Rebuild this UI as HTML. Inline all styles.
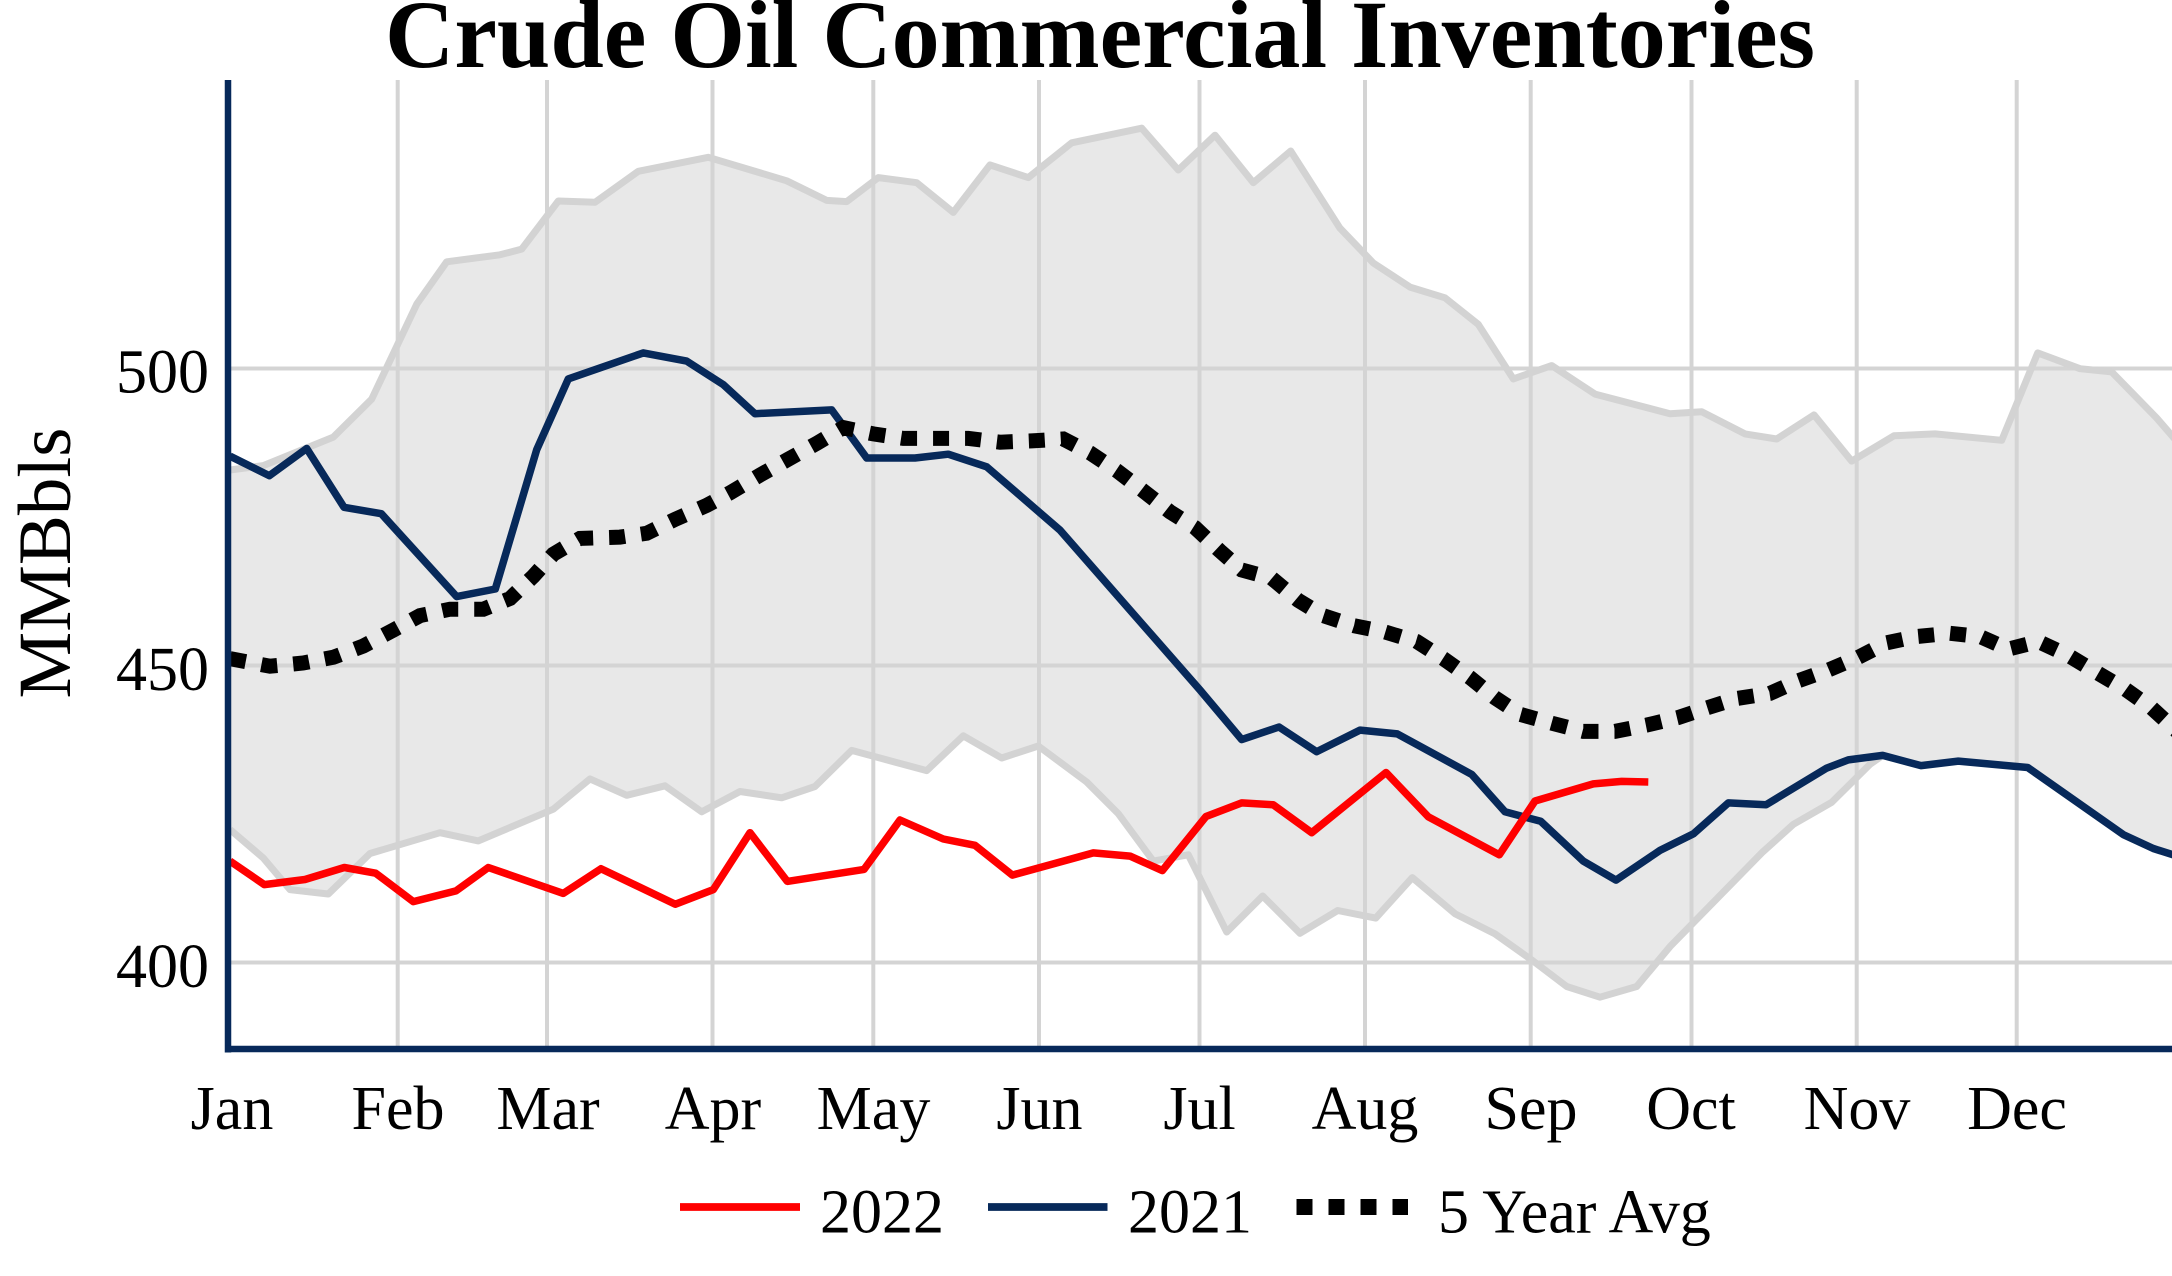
<!DOCTYPE html>
<html>
<head>
<meta charset="utf-8">
<style>
html,body{margin:0;padding:0;background:#fff;}
svg{display:block;}
text{font-family:"Liberation Serif","Times New Roman",serif;fill:#000;}
</style>
</head>
<body>
<svg width="2172" height="1276" viewBox="0 0 2172 1276" xmlns="http://www.w3.org/2000/svg">
<defs>
<clipPath id="plot"><rect x="228" y="80" width="1944" height="969"/></clipPath>
</defs>
<rect x="0" y="0" width="2172" height="1276" fill="#fff"/>

<g clip-path="url(#plot)">
<!-- band fill -->
<polygon fill="#e8e8e8" stroke="none" points="230,470 263.3,465.6 333.3,437.1 371.7,399.1 416.7,304.2 446.7,261.8 500,254.8 521.7,249.1 558.3,201 595,202.3 638.3,171.3 708.3,157.3 786.7,180.8 826.7,200.4 846.7,201.6 878.3,177.6 916.7,182.7 953.3,212.4 990,164.9 1028.3,177.6 1071.7,142.8 1141.7,128.2 1178.3,170 1215,135.2 1253.3,182.7 1290.7,151 1340,228.2 1373.3,263 1410,287.1 1445,297.8 1478.3,324.4 1513.3,378.9 1551.7,365.6 1595,394.1 1670,413.7 1701.7,411.8 1745,433.9 1776.7,439 1814,414.9 1851.7,461.1 1894,435.8 1935,433.9 2001.7,440.3 2037.7,352.9 2080,368.7 2111.7,371.9 2156.7,418.1 2180,445 2180,858 2172,854.8 2153.3,848.5 2123.3,834.6 2027.7,767.5 1958.3,761.1 1921,765.6 1882.7,755.4 1870,764.3 1831.7,802.3 1793.3,824.4 1761.7,852.9 1670,946.6 1636.7,986.5 1600,997.2 1566.7,986.5 1533.3,961.1 1495,933.9 1455,913.7 1412.3,877.6 1375.7,918.1 1337.7,910.5 1300,933.3 1262.7,896 1226.7,932 1188.3,854.8 1153.3,861.1 1118.3,813.7 1086.7,782 1038.3,746 1001.7,758 963.3,735.8 926.7,770.6 851.7,750.4 815,786.5 781.7,797.8 740,791.5 701.7,811.8 665,785.8 626.7,795.3 590,778.9 553.3,809.2 478.3,840.9 440,832.7 370,853.5 328.3,894 290,889.6 263.3,858 230,829.5"/>

<!-- gridlines -->
<g stroke="#d4d4d4" stroke-width="4">
<line x1="397.7" y1="80" x2="397.7" y2="1046"/>
<line x1="547" y1="80" x2="547" y2="1046"/>
<line x1="712.5" y1="80" x2="712.5" y2="1046"/>
<line x1="873.3" y1="80" x2="873.3" y2="1046"/>
<line x1="1039" y1="80" x2="1039" y2="1046"/>
<line x1="1199.5" y1="80" x2="1199.5" y2="1046"/>
<line x1="1365" y1="80" x2="1365" y2="1046"/>
<line x1="1530.7" y1="80" x2="1530.7" y2="1046"/>
<line x1="1691.5" y1="80" x2="1691.5" y2="1046"/>
<line x1="1856.7" y1="80" x2="1856.7" y2="1046"/>
<line x1="2016.7" y1="80" x2="2016.7" y2="1046"/>
<line x1="231" y1="368.5" x2="2172" y2="368.5"/>
<line x1="231" y1="665.5" x2="2172" y2="665.5"/>
<line x1="231" y1="962.5" x2="2172" y2="962.5"/>
</g>

<!-- band lines -->
<g fill="none" stroke="#d3d3d3" stroke-width="7" stroke-linejoin="round">
<polyline points="230,470 263.3,465.6 333.3,437.1 371.7,399.1 416.7,304.2 446.7,261.8 500,254.8 521.7,249.1 558.3,201 595,202.3 638.3,171.3 708.3,157.3 786.7,180.8 826.7,200.4 846.7,201.6 878.3,177.6 916.7,182.7 953.3,212.4 990,164.9 1028.3,177.6 1071.7,142.8 1141.7,128.2 1178.3,170 1215,135.2 1253.3,182.7 1290.7,151 1340,228.2 1373.3,263 1410,287.1 1445,297.8 1478.3,324.4 1513.3,378.9 1551.7,365.6 1595,394.1 1670,413.7 1701.7,411.8 1745,433.9 1776.7,439 1814,414.9 1851.7,461.1 1894,435.8 1935,433.9 2001.7,440.3 2037.7,352.9 2080,368.7 2111.7,371.9 2156.7,418.1 2180,445"/>
<polyline points="230,829.5 263.3,858 290,889.6 328.3,894 370,853.5 440,832.7 478.3,840.9 553.3,809.2 590,778.9 626.7,795.3 665,785.8 701.7,811.8 740,791.5 781.7,797.8 815,786.5 851.7,750.4 926.7,770.6 963.3,735.8 1001.7,758 1038.3,746 1086.7,782 1118.3,813.7 1153.3,861.1 1188.3,854.8 1226.7,932 1262.7,896 1300,933.3 1337.7,910.5 1375.7,918.1 1412.3,877.6 1455,913.7 1495,933.9 1533.3,961.1 1566.7,986.5 1600,997.2 1636.7,986.5 1670,946.6 1761.7,852.9 1793.3,824.4 1831.7,802.3 1870,764.3 1882.7,755.4"/>
</g>

<!-- 2021 -->
<polyline fill="none" stroke="#07295a" stroke-width="7.5" stroke-linejoin="round" points="230,456.1 269.3,475.7 306.7,448.5 344,507.3 381.3,513.7 456.7,596.6 495.3,589 536.7,449.7 568.3,378.9 643.3,352.9 686.7,361.1 723.3,384.6 755,413.7 831.7,409.9 866.7,458 915,458 948.3,454.2 986.7,466.8 1060,530.1 1200,690 1241.7,739.6 1279,727 1316.7,751.7 1360,730.1 1397.3,733.9 1471.7,774.4 1505,811.8 1540.7,821.3 1583.3,861.1 1616,880.1 1660,850.4 1693.3,833.9 1728.3,802.9 1766,804.8 1826.7,768.1 1848.3,759.9 1882.7,755.4 1921,765.6 1958.3,761.1 2027.7,767.5 2123.3,834.6 2153.3,848.5 2180,857"/>

<!-- 2022 -->
<polyline fill="none" stroke="#ff0000" stroke-width="7.5" stroke-linejoin="round" points="230,861.1 264.3,884.6 305,879.5 344.3,867.5 375.7,873.2 413.3,901.6 456,890.9 488.3,867.5 563.3,893.4 601,868.7 675.3,904.2 713.3,889.6 750,832.7 787.3,881.4 864,869.4 900,820 943.3,839 975,845.3 1012.3,875.1 1093.3,852.9 1130,856.1 1162.3,870.6 1206,816.5 1241.7,802.9 1273.3,804.8 1311.7,832.7 1386,772.5 1428.3,816.8 1499.3,854.8 1535,801 1593.3,783.9 1621.7,781.4 1648.3,782"/>

<!-- 5 year avg -->
<polyline fill="none" stroke="#000" stroke-width="15" stroke-dasharray="16 16" points="230,658.6 270,666.2 303.3,663 333.3,657.3 363.3,646 393.3,630.1 420,615.6 450,609.2 483.3,609.2 510,598.5 533.3,576.3 553.3,554.2 580,538.4 620,537.1 646.7,533.3 675,519.4 706.7,505.4 730,492.8 760,475.1 788.3,459.2 816.7,443.4 843.3,427.6 873.3,433.9 903.3,438.4 936.7,438.4 968.3,438.4 1000,442.2 1031.7,440.9 1063.3,439 1090,452.9 1116.7,470.6 1143.3,490.9 1170,511.8 1195,527.6 1220,551 1241.7,570 1271.7,578.2 1298.3,600.4 1323.3,615.6 1354,625.7 1385,632 1416.7,641.5 1443.3,658.6 1470,677.6 1495,697.8 1520,714.3 1551.7,723.2 1583.3,731.4 1615,731.4 1646.7,725.1 1678.3,717.5 1706.7,708 1736.7,698.5 1770,693.4 1798.3,680.8 1828.3,670 1858.3,657.3 1886.7,642.8 1916.7,636.5 1950,633.3 1980,636.5 2008.3,649.1 2038.3,641.5 2068.3,655.4 2096.7,672.5 2125,689 2151.7,708 2180,734"/>
</g>

<!-- axes -->
<line x1="228" y1="80" x2="228" y2="1052.5" stroke="#07295a" stroke-width="6.5"/>
<line x1="225" y1="1049" x2="2172" y2="1049" stroke="#07295a" stroke-width="6.5"/>

<!-- title -->
<text x="1100" y="67" font-size="96" font-weight="bold" text-anchor="middle">Crude Oil Commercial Inventories</text>

<!-- y ticks -->
<g font-size="62" text-anchor="end">
<text x="209" y="392.5">500</text>
<text x="209" y="690">450</text>
<text x="209" y="987">400</text>
</g>
<text transform="translate(70,563) rotate(-90)" font-size="75" text-anchor="middle">MMBbls</text>

<!-- x ticks -->
<g font-size="62" text-anchor="middle">
<text x="232" y="1129">Jan</text>
<text x="398" y="1129">Feb</text>
<text x="548" y="1129">Mar</text>
<text x="713" y="1129">Apr</text>
<text x="873.5" y="1129">May</text>
<text x="1039.5" y="1129">Jun</text>
<text x="1199.5" y="1129">Jul</text>
<text x="1365" y="1129">Aug</text>
<text x="1531" y="1129">Sep</text>
<text x="1691" y="1129">Oct</text>
<text x="1857" y="1129">Nov</text>
<text x="2017" y="1129">Dec</text>
</g>

<!-- legend -->
<line x1="680" y1="1207" x2="800" y2="1207" stroke="#ff0000" stroke-width="7.7"/>
<text x="820" y="1232.5" font-size="62">2022</text>
<line x1="988" y1="1207" x2="1107.5" y2="1207" stroke="#07295a" stroke-width="7.7"/>
<text x="1128" y="1232.5" font-size="62">2021</text>
<line x1="1296.5" y1="1207" x2="1408" y2="1207" stroke="#000" stroke-width="16" stroke-dasharray="16 16"/>
<text x="1438" y="1232.5" font-size="62">5 Year Avg</text>
</svg>
</body>
</html>
